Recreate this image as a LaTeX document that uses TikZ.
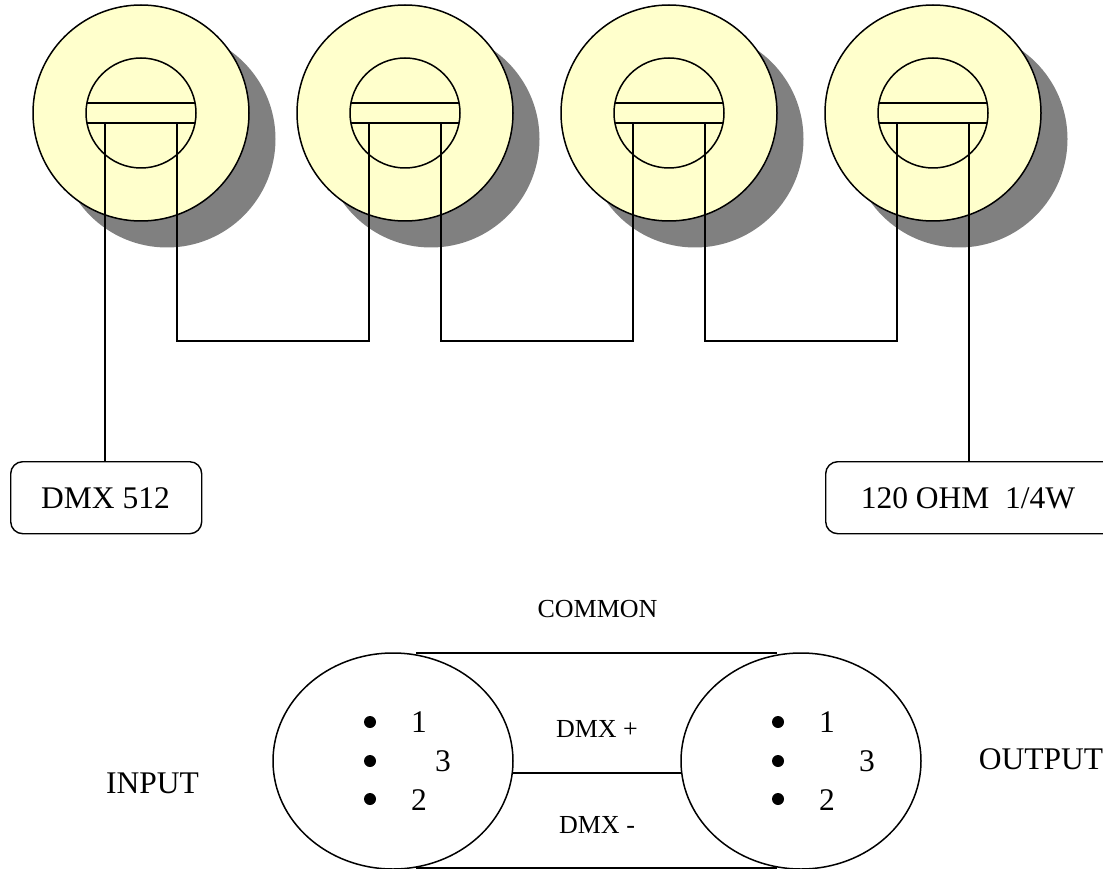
\documentclass[tikz,border=0pt]{standalone}
\usepackage{fontspec}
\setmainfont{Liberation Serif}
\usetikzlibrary{shapes.geometric}
\definecolor{lampfill}{HTML}{FFFFCC}
\definecolor{lampshadow}{HTML}{808080}
\tikzset{
  wire/.style={draw=black,line width=1.5pt},
  outerlamp/.style={circle,draw=black,line width=1.5pt,fill=lampfill,minimum size=216pt,inner sep=0pt},
  lampshade/.style={circle,fill=lampshadow,minimum size=217pt,inner sep=0pt},
  innerlamp/.style={circle,draw=black,line width=1.5pt,fill=lampfill,minimum size=110pt,inner sep=0pt},
  labelbox/.style={draw=black,line width=1.4pt,rounded corners=12pt,inner sep=0pt,anchor=north west},
  xlr/.style={ellipse,draw=black,line width=1.5pt,minimum width=240pt,minimum height=216pt,inner sep=0pt},
  pin/.style={circle,fill=black,minimum size=12pt,inner sep=0pt},
  bigtxt/.style={font=\fontsize{31.5}{36}\selectfont,inner sep=0pt,anchor=base},
  smalltxt/.style={font=\fontsize{26}{30}\selectfont,inner sep=0pt,anchor=base},
}
\begin{document}
\begin{tikzpicture}[x=1pt,y=-1pt]
\useasboundingbox (0,0) rectangle (1103,869);
\foreach \n/\cx in {1/141,2/405,3/669,4/933}{
  \node[lampshade] (s\n) at (\cx+26,139) {};
  \node[outerlamp] (o\n) at (\cx,113) {};
  \node[innerlamp] (i\n) at (\cx,113) {};
  \draw[wire] (\cx-54,103) -- (\cx+54,103);
  \draw[wire] (\cx-54,123) -- (\cx+54,123);
  \coordinate (l\n) at (\cx-36,123);
  \coordinate (r\n) at (\cx+36,123);
}
\coordinate (bus) at (0,341);
\node[labelbox,minimum width=191pt,minimum height=72pt] (dmx) at (10,461) {};
\node[labelbox,minimum width=290pt,minimum height=72pt] (ohm) at (825,461) {};
\node[bigtxt] at (105.5,508) {DMX 512};
\node[bigtxt] at (968,508) {120 OHM\ \ 1/4W};
\draw[wire] (l1) -- (l1 |- dmx.north);
\draw[wire] (r4) -- (r4 |- ohm.north);
\draw[wire] (r1) -- (r1 |- bus) -- (l2 |- bus) -- (l2);
\draw[wire] (r2) -- (r2 |- bus) -- (l3 |- bus) -- (l3);
\draw[wire] (r3) -- (r3 |- bus) -- (l4 |- bus) -- (l4);
% connectors
\node[xlr] (inp) at (393,761) {};
\node[xlr] (out) at (801,761) {};
\coordinate (ct1) at (416,653);
\coordinate (ct2) at (777,653);
\coordinate (cb1) at (416,868);
\coordinate (cb2) at (777,868);
\draw[wire] (ct1) -- (ct2);
\draw[wire] (cb1) -- (cb2);
\coordinate (dp1) at (512,773);
\coordinate (dp2) at (682,773);
\draw[wire] (dp1) -- (dp2);
\foreach \n/\y in {1/722,3/761,2/799}{
  \node[pin] (ip\n) at (370,\y) {};
  \node[pin] (op\n) at (778,\y) {};
}
\node[bigtxt] at (419,732) {1};
\node[bigtxt] at (443,771) {3};
\node[bigtxt] at (419,810) {2};
\node[bigtxt] at (827,732) {1};
\node[bigtxt] at (867,771) {3};
\node[bigtxt] at (827,810) {2};
\node[bigtxt] at (152.5,793) {INPUT};
\node[bigtxt] at (1041,769) {OUTPUT};
\node[smalltxt] at (597.5,617) {COMMON};
\node[smalltxt] at (597,737) {DMX +};
\node[smalltxt] at (597,833) {DMX -};
\end{tikzpicture}
\end{document}
